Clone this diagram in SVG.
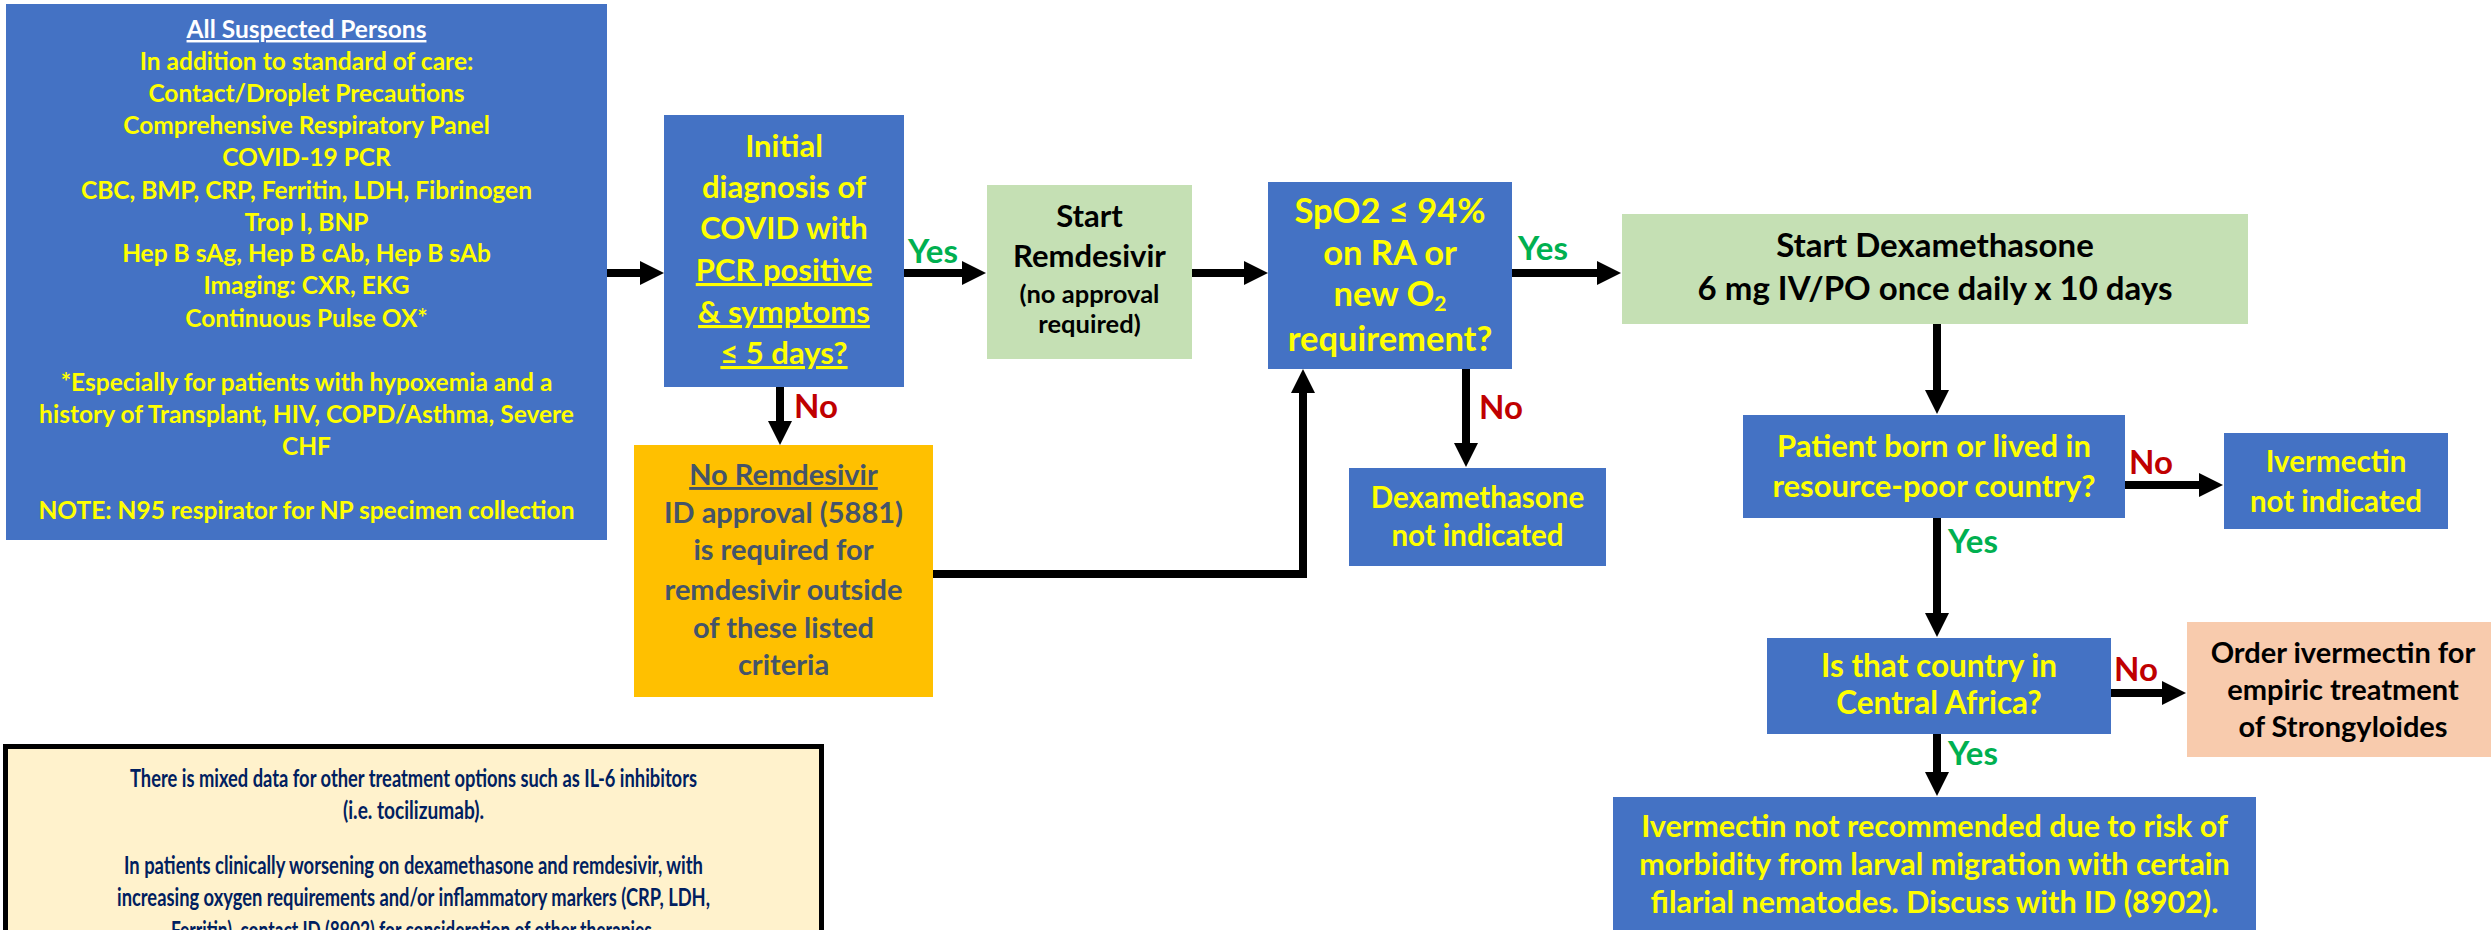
<svg xmlns="http://www.w3.org/2000/svg" width="2491" height="930" viewBox="0 0 2491 930">
<defs>
<style>
.t{font-family:Lato,"Liberation Sans",sans-serif;font-weight:700;text-anchor:middle}
.blue{fill:#4472C4}
.green{fill:#C5E0B4}
.y{fill:#FFFF00}
.k{fill:#000}
.u{text-decoration:underline}
.conn{stroke:#000;stroke-width:8;fill:none;marker-end:url(#ah)}
.yes{fill:#00B050}
.no{fill:#C00000}
</style>
<marker id="ah" markerUnits="userSpaceOnUse" markerWidth="24" markerHeight="24" viewBox="0 0 24 24" refX="2" refY="12" orient="auto">
<path d="M0,0 L24,12 L0,24 z" fill="#000"/>
</marker>
</defs>
<rect width="2491" height="930" fill="#fff"/>

<g id="connectors">
<path class="conn" d="M607,273 H642"/>
<path class="conn" d="M904,273 H964"/>
<path class="conn" d="M1192,273 H1246"/>
<path class="conn" d="M1512,273 H1599"/>
<path class="conn" d="M780,387 V423"/>
<path class="conn" d="M933,574 H1303 V391"/>
<path class="conn" d="M1466,369 V445"/>
<path class="conn" d="M1937,324 V392"/>
<path class="conn" d="M2125,485 H2201"/>
<path class="conn" d="M1937,518 V615"/>
<path class="conn" d="M2111,693 H2164"/>
<path class="conn" d="M1937,734 V774"/>
<g class="t" font-size="33">
<text class="yes" x="933" y="263">Yes</text>
<text class="no" x="816" y="418">No</text>
<text class="yes" x="1543" y="260">Yes</text>
<text class="no" x="1501" y="419">No</text>
<text class="no" x="2151" y="474">No</text>
<text class="yes" x="1973" y="553">Yes</text>
<text class="no" x="2136" y="681">No</text>
<text class="yes" x="1973" y="765">Yes</text>
</g>
</g>

<g id="allSuspected">
<rect class="blue" x="6" y="4" width="601" height="536"/>
<g class="t y" font-size="24.5">
<text class="u" x="306.5" y="38" fill="#fff">All Suspected Persons</text>
<text x="306.5" y="70">In addition to standard of care:</text>
<text x="306.5" y="102">Contact/Droplet Precautions</text>
<text x="306.5" y="134">Comprehensive Respiratory Panel</text>
<text x="306.5" y="166">COVID-19 PCR</text>
<text x="306.5" y="199">CBC, BMP, CRP, Ferritin, LDH, Fibrinogen</text>
<text x="306.5" y="231">Trop I, BNP</text>
<text x="306.5" y="262">Hep B sAg, Hep B cAb, Hep B sAb</text>
<text x="306.5" y="294">Imaging: CXR, EKG</text>
<text x="306.5" y="327">Continuous Pulse OX*</text>
<text x="306.5" y="391">*Especially for patients with hypoxemia and a</text>
<text x="306.5" y="423">history of Transplant, HIV, COPD/Asthma, Severe</text>
<text x="306.5" y="455">CHF</text>
<text x="306.5" y="519">NOTE: N95 respirator for NP specimen collection</text>
</g>
</g>

<g id="initialDiagnosis">
<rect class="blue" x="664" y="115" width="240" height="272"/>
<g class="t y" font-size="31">
<text x="784" y="157">Initial</text>
<text x="784" y="198">diagnosis of</text>
<text x="784" y="239">COVID with</text>
<text class="u" x="784" y="281">PCR positive</text>
<text class="u" x="784" y="323">&amp; symptoms</text>
<text class="u" x="784" y="364">≤ 5 days?</text>
</g>
</g>

<g id="startRemdesivir">
<rect class="green" x="987" y="185" width="205" height="174"/>
<g class="t k">
<text x="1089.5" y="227" font-size="31">Start</text>
<text x="1089.5" y="267" font-size="31">Remdesivir</text>
<text x="1089.5" y="303" font-size="25.5">(no approval</text>
<text x="1089.5" y="333" font-size="25.5">required)</text>
</g>
</g>

<g id="spo2">
<rect class="blue" x="1268" y="182" width="244" height="187"/>
<g class="t y" font-size="34.5">
<text x="1390" y="223">SpO2 ≤ 94%</text>
<text x="1390" y="265">on RA or</text>
<text x="1390" y="306">new O<tspan font-size="21" dy="5">2</tspan></text>
<text x="1390" y="351">requirement?</text>
</g>
</g>

<g id="startDexamethasone">
<rect class="green" x="1622" y="214" width="626" height="110"/>
<g class="t k" font-size="33">
<text x="1935" y="257">Start Dexamethasone</text>
<text x="1935" y="300">6 mg IV/PO once daily x 10 days</text>
</g>
</g>

<g id="noRemdesivir">
<rect x="634" y="445" width="299" height="252" fill="#FFC000"/>
<g class="t" font-size="29" fill="#44546A">
<text class="u" x="783.5" y="485">No Remdesivir</text>
<text x="783.5" y="523">ID approval (5881)</text>
<text x="783.5" y="560">is required for</text>
<text x="783.5" y="600">remdesivir outside</text>
<text x="783.5" y="638">of these listed</text>
<text x="783.5" y="675">criteria</text>
</g>
</g>

<g id="dexNotIndicated">
<rect class="blue" x="1349" y="468" width="257" height="98"/>
<g class="t y" font-size="29.5">
<text x="1477.5" y="508">Dexamethasone</text>
<text x="1477.5" y="546">not indicated</text>
</g>
</g>

<g id="resourcePoor">
<rect class="blue" x="1743" y="415" width="382" height="103"/>
<g class="t y" font-size="31">
<text x="1934" y="457">Patient born or lived in</text>
<text x="1934" y="497">resource-poor country?</text>
</g>
</g>

<g id="ivermectinNotIndicated">
<rect class="blue" x="2224" y="433" width="224" height="96"/>
<g class="t y" font-size="29.5">
<text x="2336" y="472">Ivermectin</text>
<text x="2336" y="512">not indicated</text>
</g>
</g>

<g id="centralAfrica">
<rect class="blue" x="1767" y="638" width="344" height="96"/>
<g class="t y" font-size="31.5">
<text x="1939" y="677">Is that country in</text>
<text x="1939" y="714">Central Africa?</text>
</g>
</g>

<g id="orderIvermectin">
<rect x="2187" y="622" width="310" height="135" fill="#F8CBAD"/>
<g class="t k" font-size="29">
<text x="2343" y="663">Order ivermectin for</text>
<text x="2343" y="700">empiric treatment</text>
<text x="2343" y="737">of Strongyloides</text>
</g>
</g>

<g id="ivermectinNotRecommended">
<rect class="blue" x="1613" y="797" width="643" height="140"/>
<g class="t y" font-size="30.5">
<text x="1934.5" y="837">Ivermectin not recommended due to risk of</text>
<text x="1934.5" y="875">morbidity from larval migration with certain</text>
<text x="1934.5" y="913">filarial nematodes. Discuss with ID (8902).</text>
</g>
</g>

<g id="note">
<rect x="5.5" y="746.5" width="816" height="200" fill="#FFF2CC" stroke="#000" stroke-width="5"/>
<g class="t" font-size="25" fill="#002060">
<text x="413.5" y="787" textLength="567" lengthAdjust="spacingAndGlyphs">There is mixed data for other treatment options such as IL-6 inhibitors</text>
<text x="413.5" y="819" textLength="141" lengthAdjust="spacingAndGlyphs">(i.e. tocilizumab).</text>
<text x="413.5" y="874" textLength="579" lengthAdjust="spacingAndGlyphs">In patients clinically worsening on dexamethasone and remdesivir, with</text>
<text x="413.5" y="906" textLength="593" lengthAdjust="spacingAndGlyphs">increasing oxygen requirements and/or inflammatory markers (CRP, LDH,</text>
<text x="413.5" y="939" textLength="485" lengthAdjust="spacingAndGlyphs">Ferritin), contact ID (8902) for consideration of other therapies.</text>
</g>
</g>
</svg>
